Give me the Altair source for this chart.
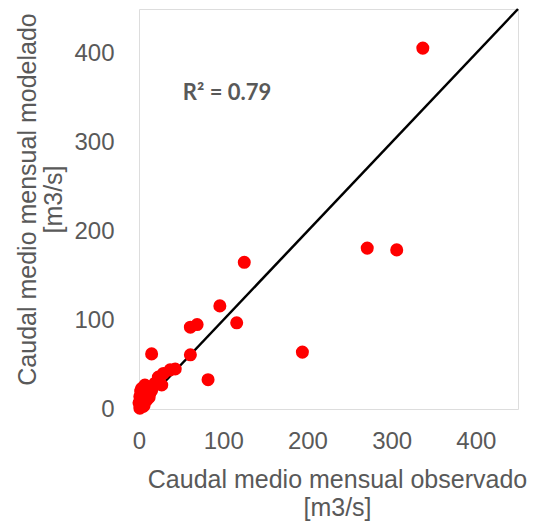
import altair as alt
import pandas as pd

# Observed vs modelled mean monthly flow [m3/s]
observado = [337, 271, 306, 125, 96, 116, 61, 69, 194, 61, 82, 15,
             43, 37, 29, 23, 19, 27, 13, 3, 1, 0, 1, 9, 7, 15, 6, 4, 2, 10, 12, 5]
modelado = [406, 181, 179, 165, 116, 97, 92, 95, 64, 61, 33, 62,
            45, 44, 40, 36, 29, 27, 18, 23, 14, 7, 1, 10, 27, 21, 4, 12, 20, 17, 13, 3]

line_x = [0, 450]
line_y = [0, 450]

tick_vals = [0, 100, 200, 300, 400]
r2_label = ["R² = 0.79"]
r2_pos_x = [52]
r2_pos_y = [355]

pts = pd.DataFrame({"obs": observado, "mod": modelado})
ln = pd.DataFrame({"obs": line_x, "mod": line_y})
txt = pd.DataFrame({"obs": r2_pos_x, "mod": r2_pos_y, "t": r2_label})

GRAY = "#595959"
FONT = "Liberation Sans"

xs = alt.Scale(domain=[0, 450], nice=False, zero=False)
ys = alt.Scale(domain=[0, 450], nice=False, zero=False)

xax = alt.Axis(values=tick_vals, grid=False, ticks=False, tickSize=0, domain=False,
               labelFont=FONT, labelFontSize=24, labelColor=GRAY, labelPadding=20,
               labelFlush=False,
               title=["Caudal medio mensual observado", "[m3/s]"],
               titleFont=FONT, titleFontSize=25, titleFontWeight="normal", titleColor=GRAY,
               titleLineHeight=28, titleBaseline="top", titleX=198, titleY=58, titleAlign="center")
yax = alt.Axis(values=tick_vals, grid=False, ticks=False, tickSize=0, domain=False,
               labelFont=FONT, labelFontSize=24, labelColor=GRAY, labelPadding=25,
               labelFlush=False,
               title=["Caudal medio mensual modelado", "[m3/s]"],
               titleFont=FONT, titleFontSize=25, titleFontWeight="normal", titleColor=GRAY,
               titleLineHeight=26, titleAngle=-90, titleBaseline="bottom", titleAlign="center",
               titleX=-99, titleY=190)

line = alt.Chart(ln).mark_line(color="black", strokeWidth=2.5, clip=False).encode(
    x=alt.X("obs:Q", scale=xs, axis=xax),
    y=alt.Y("mod:Q", scale=ys, axis=yax),
)
points = alt.Chart(pts).mark_circle(color="#FF0000", opacity=1, size=170).encode(
    x=alt.X("obs:Q", scale=xs),
    y=alt.Y("mod:Q", scale=ys),
)
label = alt.Chart(txt).mark_text(font="Lato", fontWeight="bold", fontSize=22, color=GRAY,
                                 align="left", baseline="middle").encode(
    x=alt.X("obs:Q", scale=xs),
    y=alt.Y("mod:Q", scale=ys),
    text="t:N",
)

chart = alt.layer(line, points, label).properties(
    width=379, height=400,
    autosize=alt.AutoSizeParams(type="none"),
    padding={"left": 139, "top": 9, "right": 23, "bottom": 115},
).configure_view(stroke="#404040", strokeWidth=1.5).configure(background="white")

chart.save("out.html", embed_options={"renderer": "svg", "actions": False})
